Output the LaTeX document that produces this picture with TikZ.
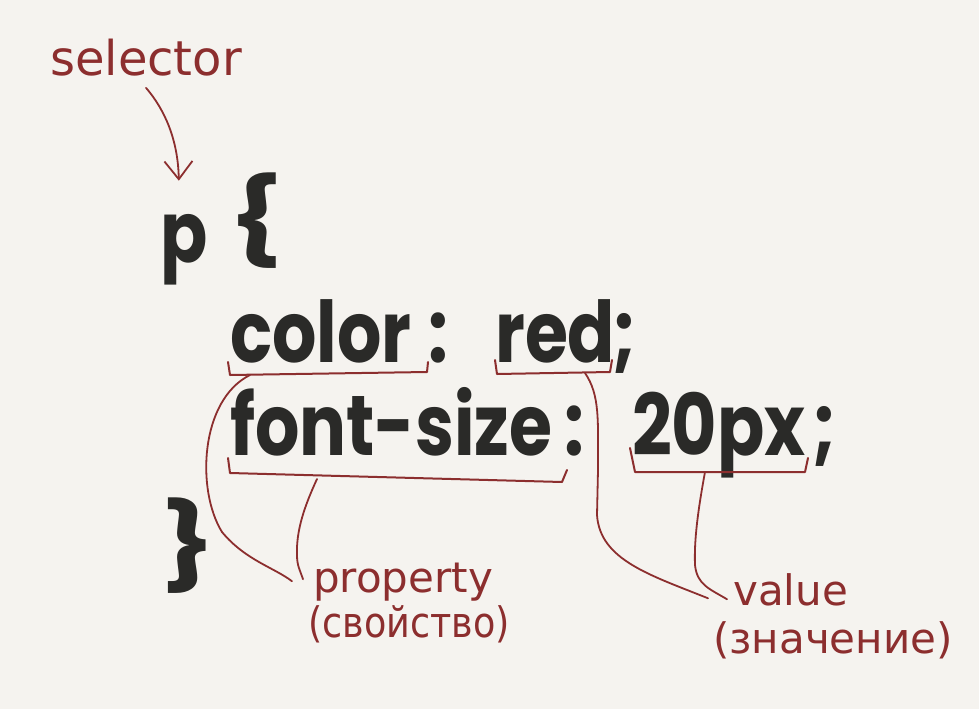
\documentclass[tikz,border=0pt]{standalone}
\usepackage{fontspec}
\setmainfont{DejaVu Sans}
\newfontfamily\codefont{Poppins}
\usetikzlibrary{arrows.meta}
\definecolor{bgpaper}{RGB}{245,243,239}
\definecolor{inkred}{RGB}{140,46,46}
\definecolor{inkdark}{RGB}{42,42,40}
\tikzset{
  code/.style={inner sep=0pt, xscale=0.82, text=inkdark, font=\codefont\bfseries\fontsize{85}{90}\selectfont},
  note/.style={inner sep=0pt, text=inkred, font=\fontsize{42}{48}\selectfont},
  brk/.style={draw=inkred, line width=2pt, line join=round, line cap=round},
  lnk/.style={draw=inkred, line width=1.8pt, line cap=round},
  sarr/.style={lnk, -{Straight Barb[length=18pt,width=28pt,line width=1.8pt]}}
}

\begin{document}
\begin{tikzpicture}[x=1pt,y=-1pt]
\fill[bgpaper] (0,0) rectangle (979,709);
\useasboundingbox (0,0) rectangle (979,709);

% the rule
\node[note, font=\fontsize{48}{54}\selectfont, anchor=base west] (sel) at (50,75) {selector};
\node[code, anchor=base west] (p) at (160,262) {p};
\node[code, xscale=1.6, anchor=base west] (lbr) at (228,250) {\{};
\node[code, anchor=base west] (prop1) at (230,362) {color};
\node[code, anchor=base west] (col1) at (428,362) {:};
\node[code, anchor=base west] (val1) at (495,362) {red};
\node[code, anchor=base west] (semi1) at (612,362) {;};
\node[code, anchor=base west] (prop2) at (230,455) {font-size};
\node[code, anchor=base west] (col2) at (564,455) {:};
\node[code, anchor=base west] (val2) at (632,455) {20px};
\node[code, anchor=base west] (semi2) at (812,455) {;};
\node[code, xscale=1.6, anchor=base west] (rbr) at (160,575) {\}};

% labels
\node[note, anchor=base west] (propen) at (313,592) {property};
\node[note, xscale=0.87, anchor=base west] (propru) at (308,637) {(свойство)};
\node[note, anchor=base west] (valen) at (733,605) {value};
\node[note, anchor=base west] (valru) at (713,653) {(значение)};

% brackets
\draw[brk] (228,362) -- (230,375) -- (427,372) -- (428,362);
\draw[brk] (495,360) -- (497,374) -- (610,372) -- (612,360);
\draw[brk] (228,458) -- (230,473) -- (562,482) -- (567,470);
\draw[brk] (630,448) -- (635,472) -- (805,472) -- (808,458);
\coordinate (b1) at (250,375);
\coordinate (b2) at (317,479);
\coordinate (b3) at (585,373);
\coordinate (b4) at (705,472);

% links
\draw[sarr] ([yshift=-12pt]sel.south) .. controls (165,110) and (178,140) .. ([xshift=-5pt,yshift=33pt]p.north);
\draw[lnk] (b1) .. controls (200,400) and (196,490) .. (222,532) .. controls (245,560) and (275,568) .. ([xshift=-21pt,yshift=8pt]propen.mid west);
\draw[lnk] (b2) .. controls (305,505) and (296,530) .. (297,555) .. controls (297,566) and (300,570) .. ([xshift=-10pt,yshift=10pt]propen.mid west);
\draw[lnk] (b3) .. controls (600,395) and (598,420) .. (598,470) -- (597,515) .. controls (600,560) and (650,575) .. ([xshift=-25pt,yshift=4pt]valen.mid west);
\draw[lnk] (b4) .. controls (698,510) and (694,540) .. (695,565) .. controls (697,585) and (710,589) .. ([xshift=-6pt,yshift=3pt]valen.mid west);
\end{tikzpicture}
\end{document}
